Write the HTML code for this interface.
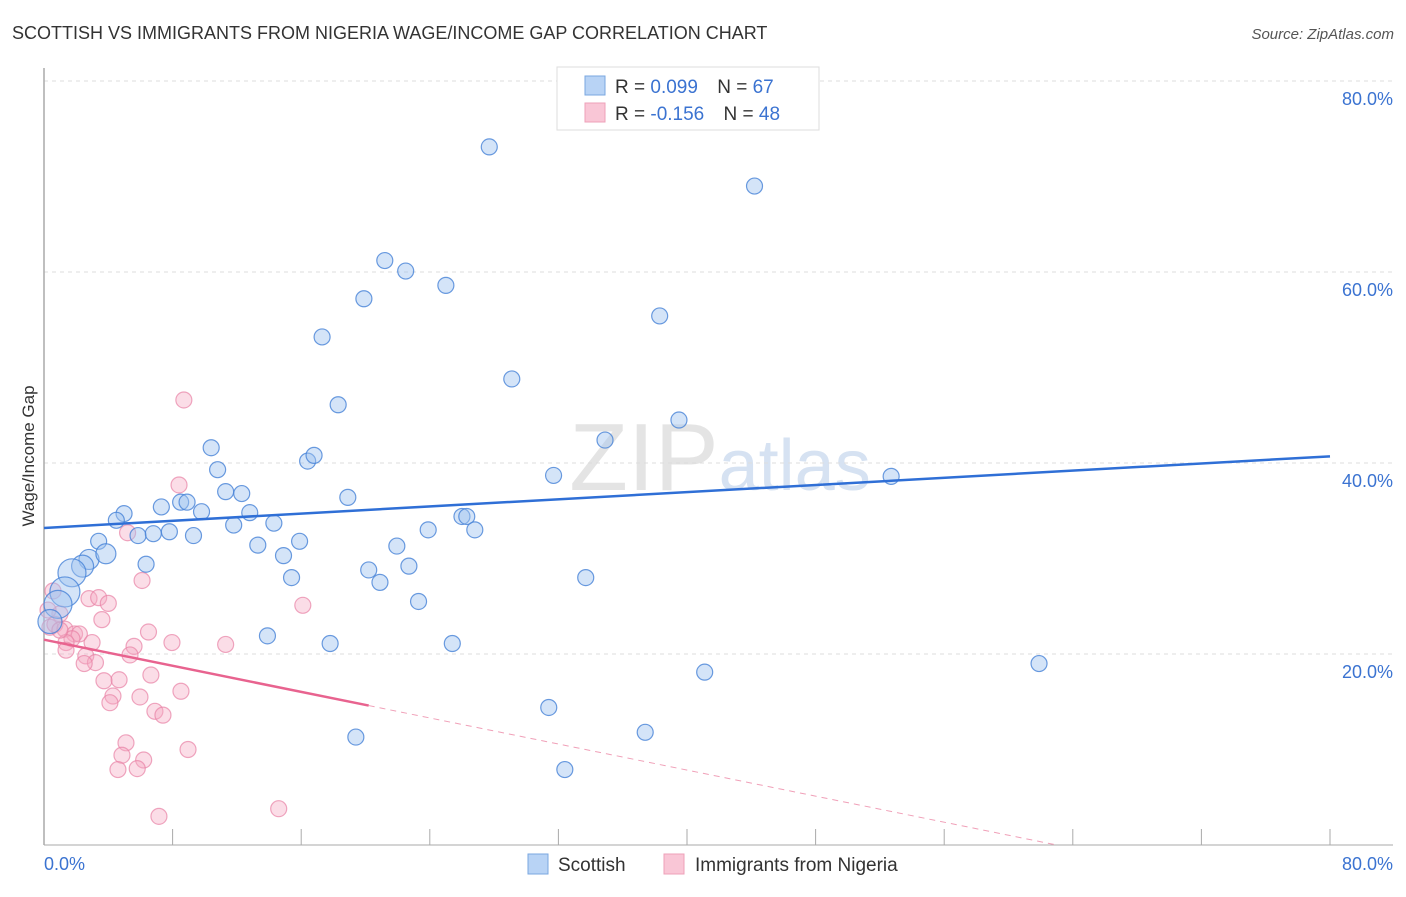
<!DOCTYPE html>
<html><head><meta charset="utf-8">
<style>
body{margin:0;background:#fff;font-family:"Liberation Sans",sans-serif;}
svg text{font-family:"Liberation Sans",sans-serif;}
</style></head>
<body>
<svg id="chart" width="1406" height="892" xmlns="http://www.w3.org/2000/svg">
<text x="12" y="39" font-size="18" fill="#333">SCOTTISH VS IMMIGRANTS FROM NIGERIA WAGE/INCOME GAP CORRELATION CHART</text>
<text x="1394" y="39" font-size="15" fill="#555" font-style="italic" text-anchor="end">Source: ZipAtlas.com</text>
<text x="720" y="490" font-size="96" fill="#e4e4e4" text-anchor="middle" font-family="Liberation Serif">ZIP<tspan fill="#d6e2f2" font-family="Liberation Sans" font-size="72">atlas</tspan></text>
<g id="grid"></g>
<g id="ticks"></g>
<line x1="44" y1="68" x2="44" y2="845" stroke="#aaa" stroke-width="1.5"/>
<line x1="44" y1="845" x2="1393" y2="845" stroke="#aaa" stroke-width="1"/>
<text transform="translate(34,456) rotate(-90)" font-size="17" fill="#333" text-anchor="middle">Wage/Income Gap</text>
<g id="pts"></g>
<g id="trend"></g>
<text x="44" y="870" font-size="18" fill="#3b73d1">0.0%</text>
<text x="1393" y="870" font-size="18" fill="#3b73d1" text-anchor="end">80.0%</text>
<g>
<rect x="557" y="67" width="262" height="63" fill="#fff" stroke="#ddd"/>
<rect x="585" y="76" width="20" height="19" fill="#b8d3f5" stroke="#7aa7e0"/>
<rect x="585" y="103" width="20" height="19" fill="#f9c6d6" stroke="#eea0b8"/>
<text x="615" y="93" font-size="19" fill="#333">R = <tspan fill="#3b73d1"> 0.099</tspan>  <tspan dx="14">N = </tspan><tspan fill="#3b73d1">67</tspan></text>
<text x="615" y="120" font-size="19" fill="#333">R = <tspan fill="#3b73d1">-0.156</tspan>  <tspan dx="14">N = </tspan><tspan fill="#3b73d1">48</tspan></text>
</g>
<g>
<rect x="528" y="854" width="20" height="20" fill="#b8d3f5" stroke="#7aa7e0"/>
<text x="558" y="871" font-size="19" fill="#333">Scottish</text>
<rect x="664" y="854" width="20" height="20" fill="#f9c6d6" stroke="#eea0b8"/>
<text x="695" y="871" font-size="19" fill="#333">Immigrants from Nigeria</text>
</g>
</svg>
<script>
const yTicks=[20,40,60,80];
const xTicks=[8,16,24,32,40,48,56,64,72,80];
const blueX=[27.7,44.2,21.2,22.5,25,19.9,38.3,17.3,29.1,18.3,39.5,34.9,10.4,16.4,16.8,10.8,31.7,52.7,11.3,12.3,18.9,7.3,8.5,8.9,9.8,4.98,4.5,12.8,26,26.3,11.8,14.3,23.9,26.8,5.85,6.8,7.8,9.3,3.4,2.8,3.85,2.4,1.74,1.3,0.87,0.37,6.35,13.3,15.9,14.9,21.95,20.2,22.7,15.4,20.9,33.7,23.3,13.9,17.8,25.4,61.9,41.1,31.4,37.4,19.4,32.4];
const blueY=[73.1,69,61.2,60.1,58.6,57.2,55.4,53.2,48.8,46.1,44.5,42.4,41.6,40.2,40.8,39.3,38.7,38.6,37,36.8,36.4,35.4,35.9,35.9,34.9,34.7,34,34.8,34.4,34.4,33.5,33.7,33,33,32.4,32.6,32.8,32.4,31.8,29.9,30.5,29.2,28.5,26.5,25.2,23.4,29.4,31.4,31.8,30.3,31.3,28.8,29.2,28,27.5,28,25.5,21.9,21.1,21.1,19,18.1,14.4,11.8,11.3,7.9];
const blueR=[8,8,8,8,8,8,8,8,8,8,8,8,8,8,8,8,8,8,8,8,8,8,8,8,8,8,8,8,8,8,8,8,8,8,8,8,8,8,8,10,10,11,14,15,14,12,8,8,8,8,8,8,8,8,8,8,8,8,8,8,8,8,8,8,8,8];
const pinkX=[8.7,8.4,5.2,6.1,0.56,2.8,3.4,4,16.1,3.6,0.99,0.37,0.68,1.3,1.9,2.2,1.74,1.37,2.99,6.5,7.96,11.3,5.6,5.35,2.6,3.2,2.5,6.65,4.67,3.73,4.29,5.97,4.1,8.52,6.9,7.4,5.1,8.96,4.85,6.2,4.6,5.8,14.6,7.15,1.37,0.99,0.25];
const pinkY=[46.6,37.7,32.7,27.7,26.6,25.8,25.9,25.3,25.1,23.6,24.2,22.8,23.1,22.6,22.1,22.1,21.6,21.2,21.2,22.3,21.2,21,20.8,19.9,19.8,19.1,19,17.8,17.3,17.2,15.6,15.5,14.9,16.1,14,13.6,10.7,10,9.4,8.9,7.9,8,3.8,3.0,20.4,22.5,24.6];
const blueTrend=[0,33.2,80,40.7];
const pinkTrend=[0,21.5,20.2,14.6,63];
const sx=v=>44+v*16.075, sy=v=>845-v*9.55;
const NS="http://www.w3.org/2000/svg";
function mk(tag,attrs,parent){const e=document.createElementNS(NS,tag);for(const k in attrs)e.setAttribute(k,attrs[k]);parent.appendChild(e);return e;}
const grid=document.getElementById('grid');
yTicks.forEach(t=>{
 const l=mk('line',{x1:44,x2:1393,y1:sy(t),y2:sy(t),stroke:'#ddd','stroke-dasharray':'4,4'},grid);
 
 
 const tx=mk('text',{x:1393,y:sy(t)+24,'font-size':18,fill:'#3b73d1','text-anchor':'end'},grid);
 tx.textContent=t.toFixed(1)+'%';
 
 
});
const tk=document.getElementById('ticks');
xTicks.forEach(t=>{
 const l=mk('line',{x1:sx(t),x2:sx(t),y1:829,y2:845,stroke:'#aaa'},tk);
 
 
});
const pts=document.getElementById('pts');
pinkX.forEach((x,i)=>{
 const c=mk('circle',{cx:sx(x),cy:sy(pinkY[i]),r:8,fill:'rgba(246,170,195,0.4)',stroke:'rgba(232,130,165,0.7)','stroke-width':1.2},pts);
 
 
});
blueX.forEach((x,i)=>{
 const c=mk('circle',{cx:sx(x),cy:sy(blueY[i]),r:blueR[i],fill:'rgba(160,196,240,0.45)',stroke:'rgba(70,130,215,0.8)','stroke-width':1.2},pts);
 
 
});
const tr=document.getElementById('trend');
const b=mk('line',{x1:sx(blueTrend[0]),y1:sy(blueTrend[1]),x2:sx(blueTrend[2]),y2:sy(blueTrend[3]),stroke:'#2f6fd6','stroke-width':2.5},tr);


const p=mk('line',{x1:sx(pinkTrend[0]),y1:sy(pinkTrend[1]),x2:sx(pinkTrend[2]),y2:sy(pinkTrend[3]),stroke:'#e8638f','stroke-width':2.5},tr);


const pd=mk('line',{x1:sx(pinkTrend[2]),y1:sy(pinkTrend[3]),x2:sx(pinkTrend[4]),y2:sy(0),stroke:'#f0a0b8','stroke-width':1,'stroke-dasharray':'6,5'},tr);


</script>
</body></html>
